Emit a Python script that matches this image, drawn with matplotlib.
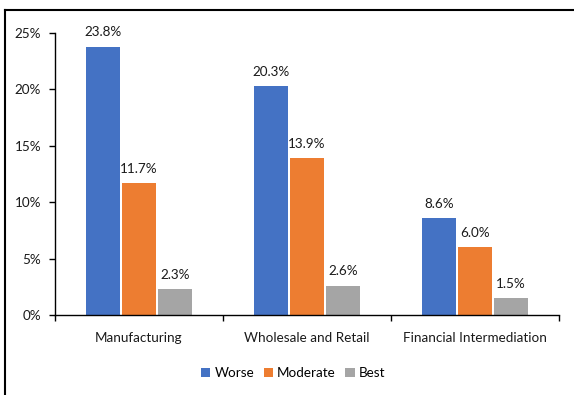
import matplotlib
matplotlib.use("Agg")
import matplotlib.pyplot as plt
from matplotlib.ticker import FixedLocator, PercentFormatter
from matplotlib.lines import Line2D
import numpy as np

categories = ["Manufacturing", "Wholesale and Retail", "Financial Intermediation"]
series_names = ["Worse", "Moderate", "Best"]
worse = [23.8, 20.3, 8.6]
moderate = [11.7, 13.9, 6.0]
best = [2.3, 2.6, 1.5]
yticks = [0, 5, 10, 15, 20, 25]

colors = ["#4472C4", "#ED7D31", "#A5A5A5"]
plt.rcParams['font.family'] = ['Lato', 'DejaVu Sans']
fs = 9.7

fig = plt.figure(figsize=(5.74, 3.95), dpi=100)
ax = fig.add_axes([55/574, 1 - 315/395, (559 - 55)/574, (315 - 33)/395])

x = np.arange(len(categories))
w = 0.2
offs = [-0.213, 0.0, 0.213]
for vals, name, c, o in zip([worse, moderate, best], series_names, colors, offs):
    bars = ax.bar(x + o, vals, width=w, color=c, label=name, zorder=2)
    for xi, v in zip(x + o, vals):
        ax.annotate(f"{v:.1f}%", (xi, v), xytext=(0, 6), textcoords="offset points",
                    ha="center", va="bottom", fontsize=fs, color="#1a1a1a")

ax.set_xlim(-0.5, 2.5)
ax.set_ylim(0, 25)
ax.set_yticks(yticks)
ax.yaxis.set_major_formatter(PercentFormatter(decimals=0))
ax.set_xticks(x)
ax.set_xticklabels(categories)
ax.xaxis.set_major_locator(FixedLocator(x))
ax.tick_params(axis='x', length=0, pad=12, labelsize=fs, labelcolor="#1a1a1a")
ax.xaxis.set_minor_locator(FixedLocator([-0.5, 0.5, 1.5, 2.5]))
ax.tick_params(axis='x', which='minor', length=4, width=1, direction='out')
ax.tick_params(axis='y', length=4, width=1, direction='out', labelsize=fs, labelcolor="#1a1a1a", pad=6)
for s in ["top", "right"]:
    ax.spines[s].set_visible(False)
for s in ["left", "bottom"]:
    ax.spines[s].set_linewidth(1.0)
    ax.spines[s].set_color("black")

leg = ax.legend(loc="center", bbox_to_anchor=(293/574, 1 - 373/395), bbox_transform=fig.transFigure,
                ncol=3, frameon=False, fontsize=fs, handlelength=0.7, handleheight=0.7,
                handletextpad=0.3, columnspacing=0.7)

# outer frame (top and left edges visible)
fig.add_artist(Line2D([5/574, 1], [1 - 10/395, 1 - 10/395], transform=fig.transFigure, color="black", lw=1.5))
fig.add_artist(Line2D([5/574, 5/574], [0, 1 - 10/395], transform=fig.transFigure, color="black", lw=1.5))

fig.savefig("out.png", dpi=100)
